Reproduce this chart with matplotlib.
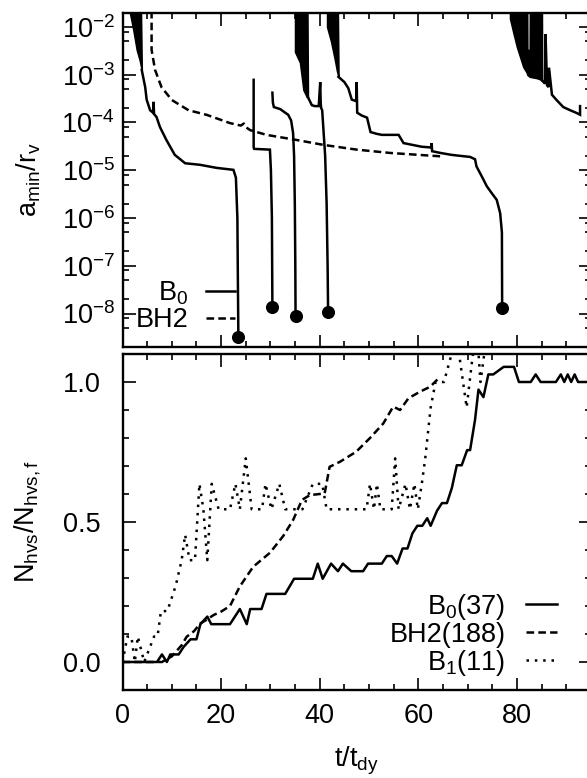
import matplotlib
matplotlib.use('Agg')
import matplotlib.pyplot as plt
from matplotlib.ticker import (MultipleLocator, LogLocator, NullFormatter,
                               FormatStrFormatter, FixedLocator)

plt.rcParams['font.family'] = ['Liberation Sans', 'DejaVu Sans']
plt.rcParams['font.size'] = 19.5
plt.rcParams['mathtext.fontset'] = 'custom'
plt.rcParams['mathtext.rm'] = 'Liberation Sans'
plt.rcParams['mathtext.it'] = 'Liberation Sans:italic'
plt.rcParams['mathtext.bf'] = 'Liberation Sans:bold'
plt.rcParams['mathtext.default'] = 'regular'
plt.rcParams['axes.linewidth'] = 1.7
plt.rcParams['lines.scale_dashes'] = False

# ---------------- tick values ----------------
x_ticks = [0, 20, 40, 60, 80]
top_y_ticks = [1e-8, 1e-7, 1e-6, 1e-5, 1e-4, 1e-3, 1e-2]
bottom_y_ticks = [0.0, 0.5, 1.0]

# ---------------- top panel data: a_min / r_v versus t / t_dy ----------------
# dense oscillating (thick) parts: lower and upper envelopes
thick1_t = [1.5, 2.2, 2.9, 3.5, 3.9]
thick1_lo = [2e-2, 8.7e-3, 3.3e-3, 2e-3, 1.26e-3]
thick1_hi = [1.0, 1.0, 1.0, 1.0, 1.3e-3]

thick4_t = [35.0, 35.0, 36.0, 36.7, 37.4, 37.6]
thick4_lo = [1.0, 3e-3, 1.8e-3, 4.8e-4, 3.4e-4, 3.4e-4]
thick4_hi = [1.0, 1.0, 1.0, 1.0, 1.0, 3.5e-4]

thick5_t = [41.5, 41.5, 42.3, 43.1, 43.5, 43.8]
thick5_lo = [1.0, 1e-2, 5e-3, 2e-3, 1.2e-3, 9e-4]
thick5_hi = [1.0, 1.0, 1.0, 1.0, 1.0, 9.5e-4]

thick6_t = [78.6, 79.3, 80.0, 81.3, 82.0, 82.1, 82.6, 82.7, 84.0, 85.0, 85.1]
thick6_lo = [1.5e-2, 7.4e-3, 3.8e-3, 1.45e-3, 1.1e-3, 1.0e-3, 9e-4, 9e-4, 8.5e-4, 7.8e-4, 7.5e-4]
thick6_hi = [1.0, 1.0, 1.0, 1.0, 1.0, 3.3e-3, 3.3e-3, 1.0, 1.0, 1.0, 7.6e-4]

# single-valued parts of each run (B0 runs, each ending in a merger dot)
run1_t = [3.9, 4.6, 4.9, 5.6, 6.2, 6.3, 6.4, 6.9, 7.6, 8.9, 10.6, 12.7, 15.7, 19.1,
          22.5, 23.0, 23.3, 23.4, 23.5]
run1_a = [1.26e-3, 5.5e-4, 3e-4, 1.8e-4, 1.6e-4, 2.7e-4, 1.5e-4, 1.3e-4, 8e-5, 4.3e-5,
          2.1e-5, 1.4e-5, 1.3e-5, 1.12e-5, 1.02e-5, 7e-6, 1e-6, 5e-8, 3.2e-9]

run2_t = [26.6, 26.6, 26.7, 29.9, 30.1, 30.3, 30.4]
run2_a = [7.8e-4, 3.0e-5, 2.8e-5, 2.7e-5, 1e-5, 1e-6, 1.4e-8]

run3_t = [30.4, 30.5, 30.7, 32.0, 33.0, 33.6, 34.2, 34.6, 34.8, 34.95, 35.05, 35.1]
run3_a = [4.2e-4, 2.6e-4, 2.1e-4, 1.9e-4, 1.6e-4, 1.45e-4, 1.1e-4, 6e-5, 2e-5, 2e-6,
          1e-7, 9e-9]

run4_t = [37.6, 38.0, 38.4, 39.0, 39.8, 40.1, 40.2, 40.3, 40.5, 40.8, 41.1, 41.4,
          41.6, 41.7]
run4_a = [3.4e-4, 2.8e-4, 2.3e-4, 2.2e-4, 2.2e-4, 7e-4, 2.5e-4, 2e-4, 1.8e-4, 6e-5,
          2e-5, 2e-6, 1e-7, 1.07e-8]

run5_t = [43.8, 45.0, 45.8, 46.5, 47.4, 47.5, 47.6, 48.5, 49.6, 50.3, 51.5, 52.6, 56.0,
          57.0, 60.7, 62.6, 62.7, 62.8, 64.5, 66.7, 68.5, 70.5, 71.5, 71.8, 73.0,
          73.9, 75.0, 75.9, 76.6, 76.95, 77.0]
run5_a = [9e-4, 7e-4, 5.2e-4, 3e-4, 2.8e-4, 7e-4, 1.6e-4, 1.4e-4, 1.26e-4, 6.3e-5,
          5.8e-5, 5.5e-5, 5.5e-5, 3.7e-5, 3.1e-5, 3.0e-5, 3.7e-5, 2.5e-5, 2.3e-5,
          2.1e-5, 2.0e-5, 1.9e-5, 1.7e-5, 1.2e-5, 7e-6, 4.6e-6, 3.2e-6, 2.4e-6,
          1.26e-6, 5e-7, 1.3e-8]

run6_t = [85.1, 85.4, 85.7, 85.8, 86.1, 86.4, 86.5, 87.1, 88.1, 89.4, 90.8, 92.1,
          92.8, 92.8]
run6_a = [7.5e-4, 7e-4, 6.5e-4, 7e-3, 6e-4, 5.5e-4, 1.4e-3, 3.8e-4, 2.9e-4, 2.1e-4,
          1.8e-4, 1.58e-4, 1.45e-4, 2.2e-4]

bh2_t = [5.9, 5.9, 6.6, 7.9, 10.0, 13.4, 17.1, 21.8, 24.0, 24.6, 25.0, 25.9, 29.2,
         35.3, 40.7, 47.5, 54.3, 64.7]
bh2_a = [5e-2, 3.3e-3, 1.26e-3, 5.5e-4, 2.95e-4, 1.8e-4, 1.44e-4, 9.7e-5, 8.6e-5,
         9.5e-5, 8.0e-5, 6.9e-5, 5.5e-5, 4.3e-5, 3.4e-5, 2.7e-5, 2.3e-5, 1.95e-5]

# ---------------- bottom panel data: N_hvs / N_hvs,f ----------------
b0_total = 37
b0_t = [0, 7, 8, 9, 9.7, 11.4, 12.4, 13.8, 15.0, 15.8, 17.2, 18, 21.8, 23.8, 25.2, 25.9,
        28.2, 29.2, 33, 34.8, 38.6, 39.6, 40.6, 42.3, 43.7, 44.7, 46.4, 48.8, 49.8,
        52.6, 53.6, 54.6, 55.7, 56.8, 57.8, 58.8, 59.8, 60.8, 61.8, 62.5, 63.8, 64.8,
        65.8, 66.8, 67.8, 68.8, 69.9, 70.5, 71.5, 72.2, 73.2, 74.2, 75.2, 77.3, 79.4,
        80.4, 82.8, 83.8, 84.8, 87.9, 88.9, 89.6, 90.3, 91.0, 91.7, 92.4, 95]
b0_n = [0, 0, 1, 0, 1, 1, 2, 3, 3, 5, 6, 5, 5, 7, 5, 7, 7, 9, 9, 11, 11, 13, 11, 13, 12,
        13, 12, 12, 13, 13, 14, 14, 13, 15, 15, 17, 18, 18, 19, 18, 20, 21, 21, 23, 26,
        26, 28, 28, 32, 36, 35, 38, 38, 39, 39, 37, 37, 38, 37, 37, 38, 37, 38, 37, 38,
        37, 37]

bh2_frac_t = [0, 8, 9, 10, 11, 12, 13, 14.5, 15.8, 17, 18.5, 20, 21.8, 23.8, 26.5, 29.9,
              32.6, 34.6, 36.4, 38, 41, 42, 44.1, 47.4, 50.2, 52.9, 54.9, 56.3, 58, 60.3,
              62.4, 64.1]
bh2_frac_v = [0, 0, 0.01, 0.02, 0.04, 0.06, 0.09, 0.11, 0.138, 0.15, 0.168, 0.18, 0.2,
              0.27, 0.34, 0.39, 0.45, 0.507, 0.579, 0.596, 0.602, 0.697, 0.715, 0.751,
              0.8, 0.852, 0.912, 0.9, 0.942, 0.965, 0.983, 1.013]

b1_total = 11
b1_t = [0, 1.0, 1.8, 2.5, 3.1, 4.4, 6.4, 7.1, 7.8, 9.1, 10.8, 12.0, 12.7, 13.6, 14.7,
        15.6, 16.4, 17.2, 18.1, 19.5, 21.8, 22.9, 23.8, 25.0, 26.2, 28.3, 29.0, 30.2,
        31.8, 33.0, 36.5, 38.6, 40.5, 41.4, 49.5, 50.2, 51.0, 51.6, 52.3, 54.6, 55.3,
        56.0, 57.4, 58.3, 59.2, 59.9, 60.7, 61.4, 62.5, 63.5, 65.2, 66.6, 67.6, 69.8,
        71.0, 71.9, 72.6, 73.3, 74.2]
b1_n = [0, 1, 1, 0, 1, 0, 1, 1, 2, 2, 3, 4, 5, 4, 4, 7, 6, 4, 7, 6, 6, 7, 6, 8, 6, 6,
        7, 6, 7, 6, 6, 7, 7, 6, 6, 7, 6, 7, 6, 6, 8, 6, 7, 6, 7, 6, 7, 8, 10, 11, 11,
        12, 13, 10, 12, 13, 11, 12, 13]

legend_top = ['B$_0$', 'BH2']
legend_bottom = ['B$_0$(37)', 'BH2(188)', 'B$_1$(11)']

# ---------------- figure ----------------
fig = plt.figure(figsize=(5.87, 7.78), dpi=100)
L, W = 122.5 / 587, (590.9 - 122.5) / 587
ax1 = fig.add_axes([L, 1 - 347 / 778, W, 334.5 / 778])
ax2 = fig.add_axes([L, 1 - 690 / 778, W, 336 / 778])

lw = 1.8
dash = (0, (5.5, 3.0))
dot = (0, (1.8, 4.2))

thicks = [(thick1_t, thick1_lo, thick1_hi), (thick4_t, thick4_lo, thick4_hi),
          (thick5_t, thick5_lo, thick5_hi), (thick6_t, thick6_lo, thick6_hi)]
for tt, lo, hi in thicks:
    ax1.fill_between(tt, lo, hi, color='black', lw=1.2, edgecolor='black')

runs = [(run1_t, run1_a), (run2_t, run2_a), (run3_t, run3_a),
        (run4_t, run4_a), (run5_t, run5_a), (run6_t, run6_a)]
solid_handle = None
for i, (rt, ra) in enumerate(runs):
    ln, = ax1.plot(rt, ra, color='black', lw=lw, solid_joinstyle='miter')
    if solid_handle is None:
        solid_handle = ln
    if i < 5:
        ax1.plot(rt[-1], ra[-1], 'o', color='black', ms=8.4, zorder=5)
dash_handle, = ax1.plot(bh2_t, bh2_a, color='black', lw=lw, linestyle=dash)

ax1.set_yscale('log')
ax1.set_xlim(0, 95)
ax1.set_ylim(2e-9, 2e-2)
ax1.yaxis.set_major_locator(FixedLocator(top_y_ticks))
ax1.yaxis.set_minor_locator(LogLocator(base=10, subs=(2.0, 5.0, 8.0), numticks=20))
ax1.yaxis.set_minor_formatter(NullFormatter())
ax1.set_ylabel('a$_{\\rm min}$/r$_{\\rm v}$')

ax1.legend([solid_handle, dash_handle], legend_top, loc='center right',
           bbox_to_anchor=(0.240, 0.121), frameon=False, markerfirst=False,
           handlelength=1.07, handletextpad=0.65, labelspacing=0.0,
           borderpad=0.0, borderaxespad=0.0, fontsize=19.5)

l0, = ax2.plot(b0_t, [n / b0_total for n in b0_n], color='black', lw=lw)
l1, = ax2.plot(bh2_frac_t, bh2_frac_v, color='black', lw=lw, linestyle=dash)
l2, = ax2.plot(b1_t, [n / b1_total for n in b1_n], color='black', lw=lw, linestyle=dot)
ax2.set_xlim(0, 95)
ax2.set_ylim(-0.1, 1.1)
ax2.yaxis.set_major_locator(FixedLocator(bottom_y_ticks))
ax2.yaxis.set_minor_locator(MultipleLocator(0.1))
ax2.yaxis.set_major_formatter(FormatStrFormatter('%.1f'))
ax2.set_ylabel('N$_{\\rm hvs}$/N$_{\\rm hvs,f}$')
ax2.set_xlabel('t/t$_{\\rm dy}$', labelpad=11)

ax2.legend([l0, l1, l2], legend_bottom, loc='center right',
           bbox_to_anchor=(0.9276, 0.165), frameon=False, markerfirst=False,
           handlelength=1.14, handletextpad=0.76, labelspacing=0.0,
           borderpad=0.0, borderaxespad=0.0, fontsize=19.5)

for ax in (ax1, ax2):
    ax.xaxis.set_major_locator(FixedLocator(x_ticks))
    ax.xaxis.set_minor_locator(MultipleLocator(5))
    ax.tick_params(which='both', direction='in', top=True, right=True, width=1.2)
    ax.tick_params(which='major', length=9)
    ax.tick_params(which='minor', length=4.5)
    ax.yaxis.set_label_coords(-0.17, 0.5)

ax1.tick_params(axis='x', labelbottom=False)
ax1.tick_params(axis='y', pad=5.4)
ax2.tick_params(axis='y', pad=16)
ax2.tick_params(axis='x', pad=9.4)

fig.savefig('out.png', dpi=100)
